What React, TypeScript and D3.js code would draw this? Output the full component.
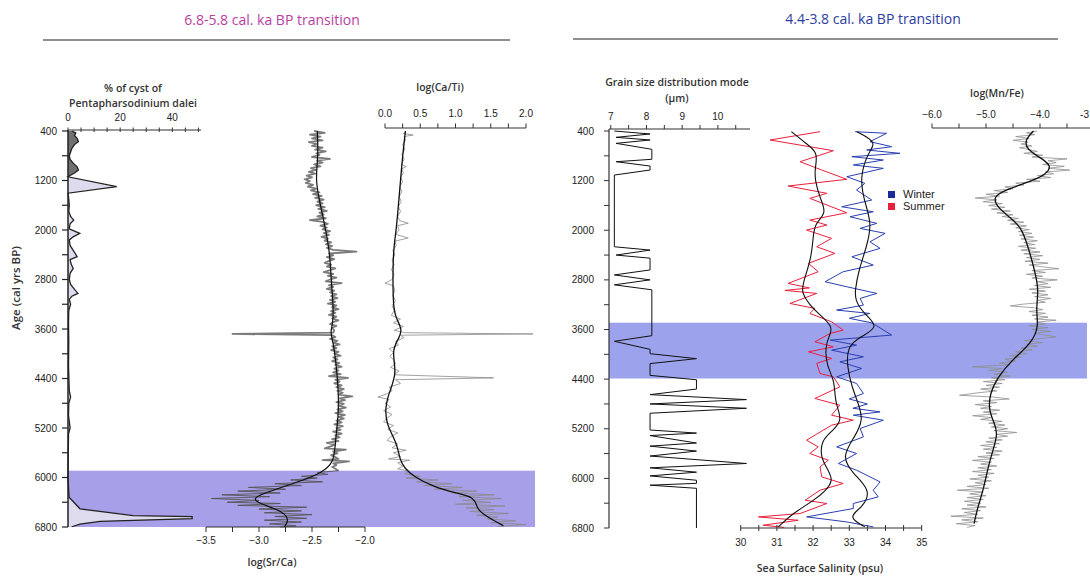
import React from 'react';
import * as d3 from 'd3';

type P = [number, number];

const ageMajor = [400, 1200, 2000, 2800, 3600, 4400, 5200, 6000, 6800];
const ageAll = d3.range(400, 6801, 400);

const bandLeft: P = [5890, 6800];
const bandRight: P = [3490, 4390];

const cyst: P[] = [[400,1.5],[430,3.0],[470,2.5],[520,3.5],[570,4.0],[620,2.5],[680,1.5],[740,1.0],[800,0.5],[860,0.8],[920,2.0],[980,3.5],[1030,4.0],[1080,2.5],[1120,0.8],[1140,0],[1300,18.7],[1405,0],[1500,0.3],[1600,0.5],[1700,0.3],[1780,1.0],[1840,2.2],[1900,0.8],[1980,0.5],[2055,4.5],[2110,2.0],[2160,0.5],[2250,0.8],[2330,2.0],[2430,3.5],[2480,0.8],[2550,1.2],[2620,2.0],[2700,0.8],[2800,0.5],[2880,1.0],[2960,2.5],[3025,3.8],[3070,1.5],[3120,0.5],[3200,1.0],[3300,0.3],[3500,0.2],[3800,0.3],[4200,0.2],[4600,0.5],[4700,1.0],[4800,0.3],[5000,0.2],[5200,0.8],[5300,0.2],[5600,0.1],[6000,0],[6318,0.4],[6506,4.6],[6615,25],[6632,47.6],[6665,47.6],[6709,12.3],[6752,4.6],[6796,1.4]];

const srcaRaw: P[] = [[400,-2.48],[430,-2.38],[460,-2.52],[490,-2.42],[520,-2.50],[550,-2.40],[580,-2.53],[610,-2.45],[640,-2.50],[670,-2.40],[700,-2.47],[730,-2.37],[760,-2.46],[790,-2.43],[820,-2.50],[850,-2.33],[880,-2.45],[910,-2.40],[940,-2.48],[970,-2.42],[1000,-2.51],[1030,-2.46],[1060,-2.53],[1090,-2.47],[1120,-2.55],[1150,-2.50],[1180,-2.57],[1210,-2.52],[1240,-2.56],[1270,-2.49],[1300,-2.54],[1330,-2.46],[1360,-2.51],[1390,-2.43],[1420,-2.49],[1450,-2.41],[1480,-2.47],[1510,-2.39],[1540,-2.45],[1570,-2.40],[1600,-2.46],[1630,-2.38],[1660,-2.44],[1690,-2.36],[1720,-2.43],[1750,-2.39],[1780,-2.45],[1810,-2.37],[1840,-2.52],[1870,-2.40],[1900,-2.35],[1930,-2.42],[1960,-2.36],[1990,-2.40],[2020,-2.33],[2050,-2.39],[2080,-2.34],[2110,-2.41],[2140,-2.35],[2170,-2.38],[2200,-2.32],[2230,-2.37],[2260,-2.31],[2290,-2.36],[2320,-2.30],[2350,-2.08],[2380,-2.34],[2410,-2.30],[2440,-2.36],[2470,-2.29],[2500,-2.34],[2530,-2.38],[2560,-2.32],[2590,-2.36],[2620,-2.28],[2650,-2.33],[2680,-2.39],[2710,-2.30],[2740,-2.35],[2770,-2.27],[2800,-2.33],[2830,-2.37],[2860,-2.22],[2890,-2.34],[2920,-2.30],[2950,-2.36],[2980,-2.29],[3010,-2.33],[3040,-2.27],[3070,-2.32],[3100,-2.26],[3130,-2.33],[3160,-2.28],[3190,-2.35],[3220,-2.27],[3250,-2.31],[3280,-2.25],[3310,-2.32],[3340,-2.28],[3370,-2.34],[3400,-2.27],[3430,-2.31],[3460,-2.25],[3490,-2.30],[3520,-2.33],[3550,-2.27],[3580,-2.31],[3620,-2.29],[3660,-2.30],[3680,-3.25],[3700,-2.31],[3730,-2.28],[3760,-2.33],[3790,-2.26],[3820,-2.30],[3850,-2.24],[3880,-2.31],[3910,-2.27],[3940,-2.32],[3970,-2.25],[4000,-2.29],[4030,-2.23],[4060,-2.30],[4090,-2.26],[4120,-2.31],[4150,-2.24],[4180,-2.28],[4210,-2.22],[4240,-2.29],[4270,-2.25],[4300,-2.30],[4330,-2.23],[4360,-2.34],[4390,-2.16],[4420,-2.28],[4450,-2.24],[4480,-2.29],[4510,-2.22],[4540,-2.27],[4570,-2.20],[4600,-2.26],[4630,-2.21],[4660,-2.25],[4690,-2.12],[4720,-2.24],[4750,-2.19],[4780,-2.27],[4810,-2.20],[4840,-2.25],[4870,-2.18],[4900,-2.26],[4930,-2.21],[4960,-2.28],[4990,-2.19],[5020,-2.25],[5050,-2.20],[5080,-2.27],[5110,-2.22],[5140,-2.29],[5170,-2.21],[5200,-2.27],[5230,-2.23],[5260,-2.30],[5290,-2.22],[5320,-2.28],[5350,-2.24],[5380,-2.31],[5410,-2.25],[5440,-2.36],[5470,-2.28],[5500,-2.33],[5530,-2.38],[5550,-2.18],[5580,-2.30],[5610,-2.26],[5640,-2.32],[5670,-2.28],[5700,-2.25],[5720,-2.40],[5740,-2.15],[5770,-2.30],[5800,-2.27],[5830,-2.31],[5860,-2.28],[5890,-2.25]];

const srcaBand: P[] = [[5890,-2.25],[5920,-2.45],[5950,-2.35],[5980,-2.60],[6010,-2.45],[6040,-2.70],[6070,-2.40],[6100,-2.85],[6130,-2.60],[6160,-3.10],[6190,-2.75],[6220,-3.20],[6250,-2.80],[6280,-3.35],[6310,-2.90],[6340,-3.45],[6370,-3.00],[6400,-3.30],[6420,-2.80],[6450,-3.20],[6480,-2.55],[6510,-3.00],[6540,-2.60],[6570,-2.95],[6600,-2.50],[6630,-2.85],[6660,-2.55],[6690,-2.95],[6720,-2.60],[6750,-2.90],[6780,-2.65],[6800,-2.80]];

const srcaSmooth: P[] = [[400,-2.45],[800,-2.44],[1200,-2.47],[1600,-2.42],[2000,-2.37],[2400,-2.33],[2800,-2.32],[3200,-2.30],[3500,-2.30],[3650,-2.33],[3800,-2.30],[4200,-2.27],[4600,-2.25],[5000,-2.25],[5400,-2.28],[5770,-2.29],[5930,-2.42],[6040,-2.58],[6150,-2.77],[6260,-2.96],[6340,-3.06],[6420,-3.00],[6530,-2.80],[6640,-2.73],[6720,-2.73],[6800,-2.76]];

const catiRaw: P[] = [[400,0.30],[440,0.26],[465,0.40],[490,0.27],[550,0.29],[620,0.25],[700,0.28],[780,0.24],[860,0.27],[940,0.23],[975,0.30],[1010,0.24],[1080,0.26],[1150,0.22],[1220,0.25],[1300,0.21],[1380,0.24],[1460,0.20],[1540,0.23],[1620,0.19],[1700,0.22],[1780,0.18],[1850,0.21],[1890,0.33],[1930,0.18],[2000,0.20],[2070,0.15],[2130,0.33],[2180,0.14],[2250,0.16],[2330,0.11],[2400,0.14],[2480,0.10],[2560,0.13],[2640,0.09],[2720,0.13],[2800,0.10],[2860,0.00],[2900,0.12],[2980,0.14],[3060,0.11],[3140,0.15],[3220,0.10],[3300,0.13],[3380,0.09],[3440,0.22],[3500,0.12],[3560,0.26],[3620,0.13],[3660,0.28],[3680,2.1],[3700,0.22],[3740,0.27],[3800,0.15],[3860,0.19],[3920,0.06],[3980,0.12],[4040,0.07],[4100,0.12],[4160,0.15],[4220,0.08],[4280,0.20],[4340,0.13],[4390,1.54],[4420,0.15],[4480,0.22],[4540,0.06],[4600,0.10],[4650,0.02],[4700,-0.10],[4740,0.06],[4800,0.0],[4860,0.08],[4920,-0.02],[4980,0.10],[5040,0.03],[5100,-0.02],[5160,0.12],[5220,0.04],[5280,0.18],[5340,0.08],[5400,0.03],[5460,0.18],[5520,0.10],[5560,0.30],[5600,0.12],[5660,0.22],[5700,0.05],[5720,0.35],[5760,0.18],[5820,0.25],[5860,0.18],[5900,0.35],[5940,0.28],[5980,0.50],[6010,0.30],[6040,0.75],[6070,0.45],[6100,0.95],[6130,0.55],[6160,1.10],[6190,0.70],[6220,1.30],[6250,0.95],[6280,1.55],[6310,1.05],[6340,1.65],[6370,1.10],[6400,1.50],[6430,1.00],[6460,1.70],[6490,1.15],[6520,1.55],[6550,1.20],[6580,1.75],[6610,1.30],[6640,1.60],[6670,1.45],[6700,1.85],[6730,1.50],[6760,2.0],[6790,1.60]];

const catiSmooth: P[] = [[400,0.29],[800,0.25],[1200,0.22],[1600,0.19],[2000,0.16],[2300,0.12],[2800,0.11],[3300,0.12],[3450,0.17],[3600,0.24],[3730,0.21],[3940,0.09],[4310,0.17],[4590,0.07],[4860,0.0],[5150,0.02],[5440,0.17],[5720,0.21],[5850,0.28],[5980,0.40],[6150,0.69],[6250,1.0],[6320,1.28],[6500,1.30],[6590,1.39],[6700,1.55],[6780,1.68]];

const grain: P[] = [[400,7.1],[448,8.1],[502,7.15],[545,8.1],[599,7.15],[695,8.15],[856,8.15],[895,7.15],[965,8.1],[1029,8.1],[1110,7.1],[2266,7.1],[2320,8.1],[2400,7.15],[2450,8.1],[2640,8.1],[2720,7.1],[2800,8.1],[2880,7.1],[2960,8.15],[3700,8.15],[3790,7.1],[3920,8.1],[3990,8.1],[4070,9.4],[4150,8.1],[4340,8.1],[4410,9.4],[4560,9.4],[4650,8.1],[4730,10.8],[4800,8.1],[4870,10.8],[4950,8.1],[5220,8.1],[5270,9.4],[5310,8.1],[5430,9.4],[5480,8.1],[5560,9.4],[5640,8.1],[5760,10.8],[5830,8.1],[5900,9.4],[5960,8.1],[6030,9.4],[6080,9.4],[6110,8.1],[6160,9.4],[6800,9.4]];

const summerRaw: P[] = [[411,32.19],[545,30.81],[718,32.56],[895,31.64],[1029,32.24],[1179,32.93],[1287,31.31],[1405,32.38],[1486,31.91],[1718,32.93],[1836,31.91],[1916,32.38],[1997,31.82],[2131,32.51],[2266,32.10],[2373,32.60],[2534,31.87],[2669,32.14],[2857,31.31],[2930,31.9],[2970,31.22],[3018,32.10],[3180,31.36],[3260,32.05],[3341,31.91],[3476,32.51],[3610,32.83],[3664,32.47],[3798,32.05],[3879,32.56],[3960,31.87],[4067,32.51],[4147,32.10],[4309,32.19],[4363,32.56],[4524,32.74],[4712,32.05],[4820,32.74],[4981,32.51],[5062,33.11],[5143,32.51],[5384,31.82],[5492,32.14],[5599,31.91],[5707,32.42],[5815,32.19],[5976,32.24],[6083,32.83],[6191,32.19],[6352,31.78],[6405,32.38],[6567,31.64],[6621,30.49],[6675,31.59],[6755,30.62],[6790,31.2]];

const summerSmooth: P[] = [[410,31.4],[600,31.8],[745,32.14],[1000,32.05],[1200,32.05],[1500,32.2],[1720,32.38],[1890,32.05],[2100,32.0],[2427,31.96],[2857,31.72],[3000,31.68],[3200,31.9],[3340,32.14],[3556,32.56],[3700,32.45],[3879,32.33],[4202,32.38],[4416,32.6],[4793,32.6],[5062,32.83],[5250,32.5],[5384,32.24],[5653,32.2],[5850,32.4],[6030,32.56],[6200,32.35],[6352,32.03],[6567,31.43],[6782,31.04]];

const winterRaw: P[] = [[411,33.16],[437,34.03],[572,33.57],[653,34.17],[706,33.48],[760,34.40],[814,33.07],[868,33.94],[948,33.11],[1002,33.94],[1137,32.93],[1244,33.43],[1352,33.20],[1513,33.62],[1621,32.79],[1702,33.66],[1782,33.02],[1889,33.76],[1970,33.30],[2050,33.99],[2186,33.57],[2292,33.85],[2427,33.07],[2561,33.66],[2669,32.83],[2830,32.33],[2911,32.93],[3018,33.76],[3099,33.30],[3207,33.39],[3287,32.65],[3341,33.57],[3420,33.0],[3490,33.6],[3556,33.80],[3690,34.17],[3771,32.47],[3852,33.20],[3933,32.51],[4040,33.39],[4121,32.74],[4228,33.34],[4363,32.65],[4470,33.20],[4631,33.39],[4720,33.0],[4800,33.5],[4870,33.1],[4928,33.85],[4981,33.11],[5062,33.94],[5196,33.30],[5331,33.39],[5492,32.65],[5599,33.20],[5760,32.70],[5868,33.20],[6057,33.85],[6191,33.66],[6298,33.80],[6405,33.11],[6486,33.11],[6621,31.82],[6702,32.93],[6782,33.66]];

const winterSmooth: P[] = [[410,33.2],[500,33.5],[600,33.7],[700,33.6],[814,33.48],[1137,33.3],[1513,33.4],[1889,33.63],[2266,33.48],[2642,33.26],[2964,33.16],[3126,33.16],[3340,33.39],[3556,33.85],[3718,33.3],[3879,32.94],[4202,32.94],[4524,33.07],[4793,33.25],[5062,33.39],[5330,33.15],[5653,32.78],[5922,33.1],[6191,33.6],[6460,33.39],[6621,32.94],[6782,33.43]];

const mnfeRaw: P[] = [[400,-4.05],[430,-4.25],[460,-4.10],[490,-4.45],[520,-4.20],[550,-4.50],[580,-4.22],[610,-4.35],[640,-4.15],[670,-4.38],[700,-4.20],[730,-4.05],[760,-4.30],[790,-3.95],[820,-4.15],[850,-3.50],[880,-3.85],[910,-3.70],[940,-3.95],[970,-3.55],[1000,-3.85],[1030,-3.45],[1060,-3.90],[1090,-3.75],[1120,-4.05],[1150,-3.80],[1180,-4.25],[1210,-4.00],[1240,-4.45],[1270,-4.30],[1300,-4.65],[1330,-4.50],[1360,-4.85],[1390,-4.60],[1420,-5.00],[1450,-4.75],[1480,-5.20],[1510,-4.80],[1540,-5.05],[1570,-4.70],[1600,-4.95],[1630,-4.65],[1660,-4.90],[1690,-4.55],[1720,-4.80],[1750,-4.50],[1780,-4.70],[1810,-4.40],[1840,-4.60],[1870,-4.30],[1900,-4.55],[1930,-4.25],[1960,-4.45],[1990,-4.20],[2020,-4.40],[2050,-4.15],[2080,-4.38],[2110,-4.12],[2140,-4.35],[2170,-4.05],[2200,-4.30],[2230,-4.10],[2260,-4.40],[2290,-4.08],[2320,-4.35],[2350,-4.00],[2380,-4.30],[2410,-3.95],[2440,-4.25],[2470,-4.00],[2500,-4.28],[2530,-3.85],[2560,-4.20],[2590,-3.95],[2620,-3.65],[2650,-4.15],[2680,-3.90],[2710,-4.25],[2740,-3.95],[2770,-4.15],[2800,-3.68],[2830,-4.05],[2860,-3.85],[2890,-4.10],[2920,-3.80],[2950,-4.20],[2980,-3.90],[3010,-4.15],[3040,-3.85],[3070,-4.10],[3100,-3.80],[3130,-4.05],[3160,-3.90],[3190,-4.30],[3220,-4.55],[3250,-4.10],[3280,-3.95],[3310,-4.20],[3340,-3.90],[3370,-4.15],[3400,-3.85],[3430,-4.10],[3450,-3.70],[3480,-4.05],[3510,-3.90],[3540,-4.20],[3570,-3.85],[3600,-4.15],[3630,-3.80],[3660,-4.10],[3690,-3.90],[3720,-3.70],[3750,-4.05],[3780,-4.30],[3810,-3.95],[3840,-4.25],[3870,-4.05],[3900,-4.35],[3930,-4.15],[3960,-4.45],[3990,-4.25],[4020,-4.55],[4050,-4.35],[4080,-4.65],[4110,-4.45],[4140,-4.75],[4170,-4.55],[4200,-5.25],[4230,-4.70],[4260,-4.95],[4290,-4.60],[4320,-4.85],[4350,-4.55],[4380,-4.90],[4410,-4.65],[4440,-5.05],[4470,-4.70],[4500,-5.00],[4530,-4.75],[4560,-5.10],[4590,-4.80],[4620,-5.15],[4660,-5.49],[4690,-4.85],[4720,-4.57],[4750,-5.05],[4780,-4.80],[4810,-5.20],[4840,-4.90],[4870,-5.10],[4900,-4.75],[4930,-5.05],[4960,-4.80],[4990,-5.25],[5020,-4.90],[5050,-5.10],[5080,-4.70],[5110,-4.95],[5140,-4.65],[5170,-4.90],[5200,-4.60],[5230,-4.85],[5260,-4.43],[5290,-4.80],[5320,-4.60],[5350,-4.95],[5380,-4.70],[5410,-5.00],[5440,-4.75],[5470,-5.10],[5500,-4.80],[5530,-5.05],[5560,-4.70],[5590,-5.00],[5620,-4.75],[5650,-5.15],[5680,-4.85],[5710,-5.25],[5740,-4.90],[5770,-5.10],[5800,-4.80],[5830,-5.15],[5860,-4.90],[5890,-5.25],[5920,-4.85],[5950,-5.15],[5980,-4.95],[6010,-5.30],[6040,-4.90],[6070,-5.20],[6100,-5.00],[6130,-5.35],[6160,-4.95],[6190,-5.53],[6220,-5.05],[6250,-5.30],[6280,-5.00],[6310,-5.35],[6340,-5.05],[6370,-5.40],[6400,-5.10],[6430,-5.35],[6460,-5.00],[6490,-5.45],[6520,-5.10],[6550,-5.40],[6580,-5.15],[6610,-5.65],[6640,-5.05],[6670,-5.45],[6700,-5.15],[6730,-5.55],[6760,-5.20],[6790,-5.35]];

const mnfeSmooth: P[] = [[400,-4.12],[545,-4.28],[700,-4.25],[850,-3.95],[975,-3.78],[1100,-3.9],[1190,-4.1],[1350,-4.64],[1460,-4.87],[1621,-4.8],[1800,-4.55],[1944,-4.35],[2266,-4.22],[2642,-4.1],[2964,-4.02],[3287,-4.08],[3556,-4.02],[3824,-4.16],[4093,-4.52],[4363,-4.78],[4631,-4.93],[4900,-4.95],[5100,-4.85],[5276,-4.78],[5545,-4.87],[5814,-4.96],[6191,-5.05],[6513,-5.17],[6728,-5.22]];

const cystTicks = d3.range(0, 51, 5);
const cystLabels = [0, 20, 40];
const srcaTicks = d3.range(-3.5, -1.99, 0.25);
const srcaLabels = [-3.5, -3.0, -2.5, -2.0];
const catiTicks = d3.range(0, 2.01, 0.25);
const catiLabels = [0, 0.5, 1.0, 1.5, 2.0];
const grainTicks = d3.range(7, 10.51, 0.5);
const grainLabels = [7, 8, 9, 10];
const sssTicks = d3.range(30, 35.01, 0.5);
const sssLabels = [30, 31, 32, 33, 34, 35];
const mnfeTicks = d3.range(-6, -2.99, 0.5);
const mnfeLabels = [-6, -5, -4];
const mnfeEdgeLabel = '-3';

const NUM = "'Liberation Sans', Arial, sans-serif";
const TXT = "'Open Sans', 'Noto Sans', sans-serif";

export default function App() {
  const yL = d3.scaleLinear().domain([400, 6800]).range([131, 527]);
  const yR = d3.scaleLinear().domain([400, 6800]).range([131, 528]);
  const cystX = d3.scaleLinear().domain([0, 51]).range([68, 201]);
  const srcaX = d3.scaleLinear().domain([-3.5, -2.0]).range([206, 365]);
  const catiX = d3.scaleLinear().domain([0, 2]).range([385, 526]);
  const grainX = d3.scaleLinear().domain([6.95, 10.9]).range([609, 750]);
  const sssX = d3.scaleLinear().domain([30, 35]).range([740.7, 921.7]);
  const mnfeX = d3.scaleLinear().domain([-6, -3]).range([932, 1094]);

  const mk = (xs: d3.ScaleLinear<number, number>, ys: d3.ScaleLinear<number, number>) =>
    d3.line<P>().x(d => xs(d[1])).y(d => ys(d[0]));

  const cystArea = d3.area<P>().x0(cystX(0)).x1(d => cystX(d[1])).y(d => yL(d[0]));
  const cystTop = cyst.filter(d => d[0] <= 1140);

  const fmt1 = d3.format('.1f');

  const tickText = (x: number, y: number, t: string, anchor = 'middle') => (
    <text key={t + x + y} x={x} y={y} textAnchor={anchor} fontSize={10} fontFamily={NUM} fill="#222">{t}</text>
  );

  return (
    <svg width={1090} height={577} style={{ position: 'absolute', left: 0, top: 0, background: '#fff' }}>
      {/* titles */}
      <text x={272} y={25} textAnchor="middle" fontSize={14} fontFamily={TXT} fill="#b8409f">6.8-5.8 cal. ka BP transition</text>
      <text x={873} y={24} textAnchor="middle" fontSize={14} fontFamily={TXT} fill="#2b3ca0">4.4-3.8 cal. ka BP transition</text>
      <line x1={43} x2={510} y1={40} y2={40} stroke="#6a6a6a" strokeWidth={1.5} />
      <line x1={573} x2={1058} y1={39} y2={39} stroke="#6a6a6a" strokeWidth={1.5} />

      {/* bands */}
      <rect x={68} y={yL(bandLeft[0])} width={535 - 68} height={yL(bandLeft[1]) - yL(bandLeft[0])} fill="#a79fe8" />
      <rect x={609} y={yR(bandRight[0])} width={1087 - 609} height={yR(bandRight[1]) - yR(bandRight[0])} fill="#9ca3ec" />

      {/* ===== LEFT PANEL ===== */}
      <path d={cystArea(cyst) || ''} fill="#dedbee" stroke="none" />
      <path d={cystArea(cystTop) || ''} fill="#707070" stroke="none" />
      <path d={mk(cystX, yL)(cyst) || ''} fill="none" stroke="#222" strokeWidth={1.3} />

      <path d={mk(srcaX, yL)(srcaRaw) || ''} fill="none" stroke="#7b7b7b" strokeWidth={1.8} strokeLinejoin="round" />
      <path d={mk(srcaX, yL)(srcaBand) || ''} fill="none" stroke="#555" strokeWidth={0.9} />
      <path d={mk(srcaX, yL).curve(d3.curveBasis)(srcaSmooth) || ''} fill="none" stroke="#111" strokeWidth={1.2} />

      <path d={mk(catiX, yL)(catiRaw) || ''} fill="none" stroke="#8a8a8a" strokeWidth={0.8} />
      <path d={mk(catiX, yL).curve(d3.curveBasis)(catiSmooth) || ''} fill="none" stroke="#111" strokeWidth={1.3} />

      {/* left age axis */}
      <line x1={68} x2={68} y1={130} y2={527} stroke="#222" strokeWidth={1.5} />
      {ageAll.map(a => <line key={a} x1={62} x2={68} y1={yL(a)} y2={yL(a)} stroke="#222" strokeWidth={1.2} />)}
      {ageMajor.map(a => tickText(57, yL(a) + 3.5, String(a), 'end'))}
      <text transform="translate(20,288) rotate(-90)" textAnchor="middle" fontSize={11.5} fontWeight={600} fontFamily={TXT} fill="#333">Age (cal  yrs BP)</text>

      {/* cyst axis */}
      <line x1={68} x2={201} y1={130} y2={130} stroke="#333" strokeWidth={1.2} />
      {cystTicks.map(t => <line key={t} x1={cystX(t)} x2={cystX(t)} y1={127.5} y2={132} stroke="#333" strokeWidth={1} />)}
      {cystLabels.map(t => tickText(cystX(t), 121, String(t)))}
      <text x={133} y={92} textAnchor="middle" fontSize={10.5} fontWeight={600} fontFamily={TXT} fill="#333">% of cyst of</text>
      <text x={133} y={107} textAnchor="middle" fontSize={10.5} fontWeight={600} fontFamily={TXT} fill="#333">Pentapharsodinium dalei</text>

      {/* Sr/Ca axis */}
      <line x1={206} x2={365} y1={527} y2={527} stroke="#333" strokeWidth={1.2} />
      {srcaTicks.map(t => <line key={t} x1={srcaX(t)} x2={srcaX(t)} y1={527} y2={532} stroke="#333" strokeWidth={1} />)}
      {srcaLabels.map(t => tickText(srcaX(t), 544, fmt1(t)))}
      <text x={272} y={566} textAnchor="middle" fontSize={10.5} fontWeight={600} fontFamily={TXT} fill="#333">log(Sr/Ca)</text>

      {/* Ca/Ti axis */}
      <line x1={385} x2={526} y1={128} y2={128} stroke="#333" strokeWidth={1.2} />
      {catiTicks.map(t => <line key={t} x1={catiX(t)} x2={catiX(t)} y1={123.5} y2={128} stroke="#333" strokeWidth={1} />)}
      {catiLabels.map(t => tickText(catiX(t), 117, fmt1(t)))}
      <text x={440} y={91} textAnchor="middle" fontSize={10.5} fontWeight={600} fontFamily={TXT} fill="#333">log(Ca/Ti)</text>

      {/* ===== RIGHT PANEL ===== */}
      <path d={mk(grainX, yR)(grain) || ''} fill="none" stroke="#111" strokeWidth={1} />

      <path d={mk(sssX, yR)(summerRaw) || ''} fill="none" stroke="#e8203c" strokeWidth={1} />
      <path d={mk(sssX, yR)(winterRaw) || ''} fill="none" stroke="#2a3fb0" strokeWidth={1} />
      <path d={mk(sssX, yR).curve(d3.curveBasis)(summerSmooth) || ''} fill="none" stroke="#111" strokeWidth={1.1} />
      <path d={mk(sssX, yR).curve(d3.curveBasis)(winterSmooth) || ''} fill="none" stroke="#111" strokeWidth={1.1} />

      <path d={mk(mnfeX, yR)(mnfeRaw) || ''} fill="none" stroke="#8e8e8e" strokeWidth={0.8} />
      <path d={mk(mnfeX, yR).curve(d3.curveBasis)(mnfeSmooth) || ''} fill="none" stroke="#111" strokeWidth={1.3} />

      {/* right age axis */}
      <line x1={609} x2={609} y1={129} y2={528} stroke="#333" strokeWidth={1.2} />
      {ageAll.map(a => <line key={a} x1={604} x2={609} y1={yR(a)} y2={yR(a)} stroke="#333" strokeWidth={1} />)}
      {ageMajor.map(a => tickText(594, yR(a) + 3.5, String(a), 'end'))}

      {/* grain axis */}
      <line x1={609} x2={750} y1={129} y2={129} stroke="#333" strokeWidth={1.2} />
      {grainTicks.map(t => <line key={t} x1={grainX(t)} x2={grainX(t)} y1={125} y2={129} stroke="#333" strokeWidth={1} />)}
      {grainLabels.map(t => tickText(grainX(t), 120, String(t)))}
      <text x={677} y={86} textAnchor="middle" fontSize={10.5} fontWeight={600} fontFamily={TXT} fill="#333">Grain size distribution mode</text>
      <text x={677} y={102} textAnchor="middle" fontSize={10.5} fontWeight={600} fontFamily={TXT} fill="#333">(µm)</text>

      {/* SSS axis */}
      <line x1={740.7} x2={921.7} y1={528} y2={528} stroke="#333" strokeWidth={1.2} />
      {sssTicks.map(t => <line key={t} x1={sssX(t)} x2={sssX(t)} y1={525} y2={531} stroke="#333" strokeWidth={1} />)}
      {sssLabels.map(t => tickText(sssX(t), 546, String(t)))}
      <text x={820} y={572} textAnchor="middle" fontSize={10.5} fontWeight={600} fontFamily={TXT} fill="#333">Sea Surface Salinity (psu)</text>

      {/* legend */}
      <rect x={888} y={191} width={7} height={7} fill="#1a2a9a" />
      <text x={903} y={198} fontSize={11} fontFamily={NUM} fill="#222">Winter</text>
      <rect x={888} y={203} width={7} height={7} fill="#e8203c" />
      <text x={903} y={210} fontSize={11} fontFamily={NUM} fill="#222">Summer</text>

      {/* Mn/Fe axis */}
      <line x1={932} x2={1090} y1={128} y2={128} stroke="#333" strokeWidth={1.2} />
      {mnfeTicks.map(t => <line key={t} x1={mnfeX(t)} x2={mnfeX(t)} y1={123.5} y2={128} stroke="#333" strokeWidth={1} />)}
      {mnfeLabels.map(t => tickText(mnfeX(t), 118, fmt1(t)))}
      {tickText(1089, 118, mnfeEdgeLabel, 'end')}
      <text x={997} y={97} textAnchor="middle" fontSize={10.5} fontWeight={600} fontFamily={TXT} fill="#333">log(Mn/Fe)</text>
    </svg>
  );
}
